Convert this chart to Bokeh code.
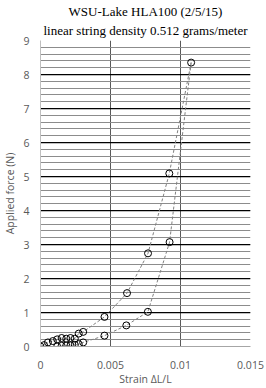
from bokeh.plotting import figure
from bokeh.models import FixedTicker, Range1d, Title
from bokeh.embed import file_html
from bokeh.resources import INLINE

# Data (loading branch then unloading branch), strain vs applied force
load_strain = [0, 0.00025, 0.00053, 0.00088, 0.00119, 0.00151, 0.00184, 0.00214, 0.00245,
               0.00273, 0.00305, 0.00457, 0.00618, 0.00768, 0.00920, 0.01076]
load_force = [0, 0.04, 0.12, 0.16, 0.21, 0.25, 0.23, 0.25, 0.23,
              0.38, 0.43, 0.87, 1.57, 2.74, 5.09, 8.35]
unload_strain = [0.01076, 0.00922, 0.00767, 0.00613, 0.00457, 0.00305, 0.00273, 0.00245,
                 0.00214, 0.00184, 0.00151, 0.00119]
unload_force = [8.35, 3.07, 1.02, 0.62, 0.32, 0.12, 0.07, 0.05, 0.03, 0.03, 0.02, 0.0]

x_ticks = [0, 0.005, 0.01, 0.015]
x_tick_labels = ["0", "0.005", "0.01", "0.015"]
y_ticks = [0, 1, 2, 3, 4, 5, 6, 7, 8, 9]
y_minor_ticks = [round(i * 0.2, 1) for i in range(46)]

title_line1 = "WSU-Lake HLA100 (2/5/15)"
title_line2 = "linear string density 0.512 grams/meter"

p = figure(width=266, height=388, output_backend="svg", toolbar_location=None,
           x_range=Range1d(0, 0.015), y_range=Range1d(0, 9),
           min_border_left=36, min_border_right=16, min_border_top=40, min_border_bottom=40,
           title=None)
p.outline_line_color = None
p.background_fill_color = "white"

t2 = Title(text=title_line2, align="center", text_font="Liberation Serif",
           text_font_size="13px", text_font_style="normal", text_color="black",
           offset=-4, standoff=5)
t1 = Title(text=title_line1, align="center", text_font="Liberation Serif",
           text_font_size="13px", text_font_style="normal", text_color="black",
           offset=-7, standoff=0)
p.add_layout(t2, "above")
p.add_layout(t1, "above")

# axes
p.xaxis.ticker = FixedTicker(ticks=x_ticks)
p.xaxis.major_label_overrides = {t: l for t, l in zip(x_ticks, x_tick_labels)}
p.yaxis.ticker = FixedTicker(ticks=y_ticks, minor_ticks=y_minor_ticks)
for ax in (p.xaxis[0], p.yaxis[0]):
    ax.major_tick_line_color = None
    ax.minor_tick_line_color = None
    ax.major_tick_out = 0
    ax.major_tick_in = 0
    ax.minor_tick_out = 0
    ax.minor_tick_in = 0
    ax.major_label_text_font = "Open Sans"
    ax.major_label_text_font_size = "10.5px"
    ax.major_label_text_color = "#595959"
    ax.axis_label_text_font = "Open Sans"
    ax.axis_label_text_font_size = "10.5px"
    ax.axis_label_text_font_style = "normal"
    ax.axis_label_text_color = "#595959"
p.xaxis.axis_label = "Strain ΔL/L"
p.yaxis.axis_label = "Applied force (N)"
p.xaxis.axis_line_color = "#a6a6a6"
p.yaxis.axis_line_color = "#bfbfbf"
p.xaxis.major_label_standoff = 14
p.yaxis.major_label_standoff = 11
p.xaxis.axis_label_standoff = 0
p.yaxis.axis_label_standoff = 3

# grids (the zero lines are the axis lines)
p.xgrid.ticker = FixedTicker(ticks=x_ticks[1:])
p.xgrid.grid_line_color = "#595959"
p.xgrid.grid_line_width = 1
p.ygrid.ticker = FixedTicker(ticks=y_ticks[1:], minor_ticks=y_minor_ticks[1:])
p.ygrid.grid_line_color = "black"
p.ygrid.grid_line_width = 1.25
p.ygrid.minor_grid_line_color = "#8c8c8c"
p.ygrid.minor_grid_line_width = 1

# dashed connecting lines
p.line(load_strain, load_force, line_color="#808080", line_dash="3 2", line_width=1)
p.line(unload_strain, unload_force, line_color="#808080", line_dash="3 2", line_width=1)

# markers
p.scatter(load_strain, load_force, marker="circle", size=7, fill_color=None,
          line_color="black", line_width=1)
p.scatter(unload_strain[1:], unload_force[1:], marker="circle", size=7, fill_color=None,
          line_color="black", line_width=1)

open("out.html", "w").write(file_html(p, INLINE))
